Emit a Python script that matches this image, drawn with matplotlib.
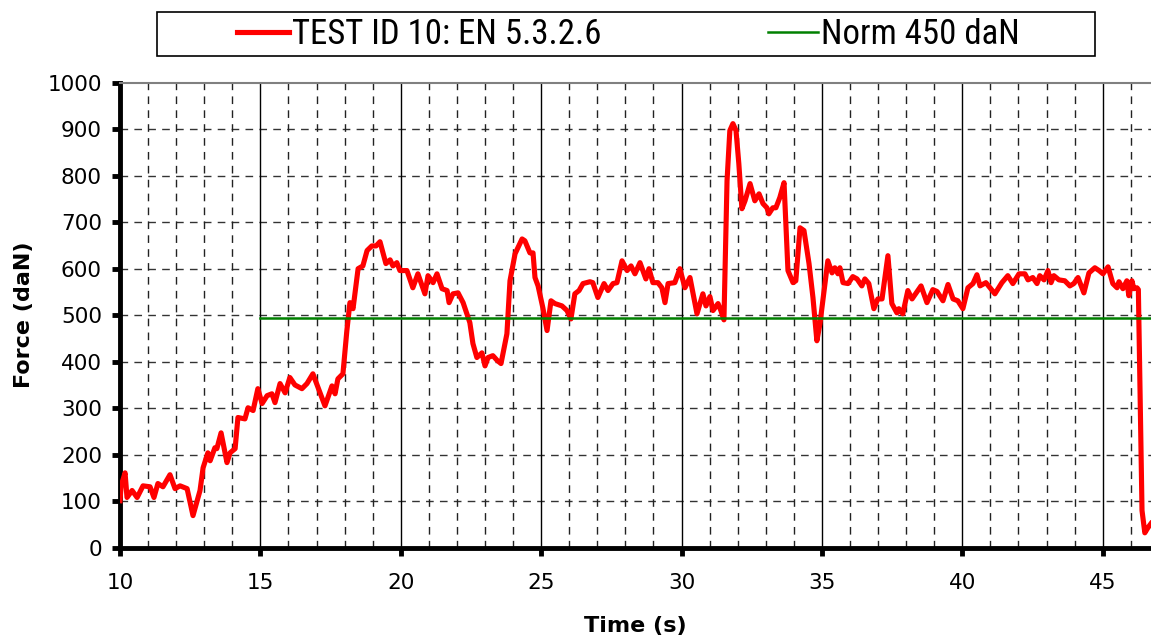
import matplotlib
matplotlib.use("Agg")
import matplotlib.pyplot as plt
from matplotlib import font_manager
from matplotlib.lines import Line2D
from matplotlib.patches import Rectangle

time_s = [10.00, 10.04, 10.18, 10.25, 10.43, 10.61, 10.82, 11.07, 11.21, 11.35, 11.53, 11.78, 11.96, 12.14, 12.39,
          12.60, 12.85, 12.96, 13.13, 13.21, 13.38, 13.45, 13.60, 13.81, 13.92, 14.10, 14.20, 14.45, 14.56, 14.74,
          14.91, 15.06, 15.24, 15.41, 15.52, 15.70, 15.88, 16.05, 16.23, 16.48, 16.66, 16.87, 17.30, 17.55, 17.66,
          17.76, 17.94, 18.08, 18.19, 18.30, 18.48, 18.65, 18.80, 18.97, 19.12, 19.26, 19.47, 19.62, 19.72, 19.86,
          19.97, 20.22, 20.43, 20.61, 20.86, 20.97, 21.15, 21.29, 21.47, 21.65, 21.72, 21.86, 22.04, 22.22, 22.46,
          22.57, 22.71, 22.89, 23.00, 23.11, 23.28, 23.43, 23.57, 23.78, 23.89, 24.07, 24.32, 24.42, 24.60, 24.71,
          24.78, 24.89, 25.06, 25.21, 25.35, 25.49, 25.74, 25.92, 26.06, 26.20, 26.35, 26.49, 26.74, 26.84, 27.02,
          27.24, 27.38, 27.56, 27.70, 27.88, 28.06, 28.20, 28.34, 28.52, 28.73, 28.84, 28.98, 29.16, 29.30, 29.41,
          29.52, 29.76, 29.94, 30.12, 30.30, 30.55, 30.76, 30.87, 31.01, 31.12, 31.30, 31.40, 31.51, 31.62, 31.72,
          31.83, 31.94, 32.04, 32.15, 32.26, 32.44, 32.61, 32.76, 32.90, 33.04, 33.11, 33.25, 33.36, 33.50, 33.65,
          33.79, 33.97, 34.07, 34.22, 34.36, 34.54, 34.68, 34.82, 34.93, 35.11, 35.21, 35.36, 35.46, 35.57, 35.64,
          35.75, 35.93, 36.10, 36.25, 36.42, 36.53, 36.67, 36.85, 36.99, 37.14, 37.35, 37.49, 37.67, 37.74, 37.88,
          38.06, 38.21, 38.53, 38.74, 38.95, 39.10, 39.31, 39.49, 39.67, 39.84, 40.02, 40.20, 40.38, 40.52, 40.63,
          40.84, 41.16, 41.41, 41.62, 41.80, 42.02, 42.23, 42.34, 42.51, 42.66, 42.76, 42.91, 43.05, 43.16, 43.26,
          43.44, 43.65, 43.83, 43.97, 44.12, 44.33, 44.51, 44.72, 44.87, 45.01, 45.19, 45.36, 45.51, 45.58, 45.72,
          45.86, 45.93, 46.04, 46.11, 46.22, 46.27, 46.40, 46.50, 46.61, 46.72]
force_daN = [101, 133, 161, 108, 123, 108, 133, 131, 108, 138, 131, 157, 127, 133, 127,
             69, 123, 172, 204, 187, 215, 213, 247, 183, 204, 213, 280, 277, 301, 295,
             342, 310, 327, 331, 312, 353, 333, 366, 350, 342, 353, 374, 305, 348, 331,
             363, 374, 467, 527, 514, 600, 606, 639, 649, 649, 658, 611, 619, 606, 613,
             596, 596, 559, 589, 546, 585, 570, 589, 557, 553, 527, 546, 548, 527, 484,
             439, 409, 419, 391, 409, 413, 403, 396, 460, 574, 632, 664, 660, 634, 634,
             581, 563, 516, 467, 531, 525, 520, 510, 492, 546, 553, 568, 572, 570, 538,
             568, 553, 568, 570, 617, 596, 606, 589, 613, 578, 600, 570, 570, 559, 527,
             568, 570, 600, 559, 581, 503, 546, 520, 540, 510, 525, 510, 490, 789, 897,
             912, 897, 826, 729, 746, 783, 746, 761, 740, 731, 718, 731, 731, 753, 785,
             596, 570, 574, 688, 682, 611, 538, 445, 482, 568, 617, 591, 602, 589, 602,
             570, 568, 583, 578, 563, 578, 568, 514, 535, 535, 628, 525, 505, 514, 503,
             553, 535, 563, 527, 555, 551, 531, 566, 535, 531, 514, 559, 568, 587, 563,
             570, 546, 570, 585, 568, 589, 589, 576, 581, 568, 585, 576, 596, 570, 585,
             576, 574, 563, 568, 581, 548, 591, 602, 596, 589, 604, 568, 559, 572, 557,
             574, 542, 574, 557, 559, 555, 80, 32, 43, 52]

norm_value = 495
norm_start = 15
x_limits = (10, 46.72)
y_limits = (0, 1000)
x_ticks = [10, 15, 20, 25, 30, 35, 40, 45]
y_ticks = [0, 100, 200, 300, 400, 500, 600, 700, 800, 900, 1000]
x_minor = [11, 12, 13, 14, 16, 17, 18, 19, 21, 22, 23, 24, 26, 27, 28, 29, 31, 32, 33, 34, 36, 37, 38, 39,
           41, 42, 43, 44, 46]
series_label = "TEST ID 10: EN 5.3.2.6"
norm_label = "Norm 450 daN"
x_label = "Time (s)"
y_label = "Force (daN)"

W, H = 1151, 639
fig = plt.figure(figsize=(W / 100, H / 100), dpi=100)
ax = fig.add_axes([120 / W, 1 - 547.7 / H, 1031 / W, 465 / H])
ax.set_xlim(*x_limits)
ax.set_ylim(*y_limits)

dash = (5.5, 4.5)
for yv in y_ticks[1:-1]:
    ax.axhline(yv, color="#333333", lw=1.0, ls=(0, dash), zorder=1)
for xv in x_minor:
    ax.axvline(xv, color="#222222", lw=1.0, ls=(0, dash), zorder=1)
for xv in x_ticks[1:]:
    ax.axvline(xv, color="black", lw=1.0, zorder=1.5)

ax.plot(time_s, force_daN, color="#ff0000", lw=3.7, zorder=3, solid_joinstyle="round")
ax.plot([norm_start, x_limits[1]], [norm_value, norm_value], color="#008000", lw=1.8, zorder=4)

ax.set_xticks(x_ticks)
ax.set_yticks(y_ticks)
ax.tick_params(axis="both", direction="out", width=3.5, length=6, labelsize=15.5, color="black")
ax.tick_params(axis="x", pad=12)
ax.tick_params(axis="y", pad=7)
ax.spines["left"].set_linewidth(3.5)
ax.spines["bottom"].set_linewidth(3.5)
ax.spines["top"].set_color("#808080")
ax.spines["top"].set_linewidth(1.5)
ax.spines["right"].set_visible(False)

ax.set_xlabel(x_label, fontsize=16, fontweight="bold", labelpad=17)
ax.set_ylabel(y_label, fontsize=16, fontweight="bold", labelpad=10)

names = {f.name for f in font_manager.fontManager.ttflist}
narrow = "DejaVu Sans"
for cand in ["Liberation Sans Narrow", "Arial Narrow", "Roboto Condensed", "Archivo Narrow"]:
    if cand in names:
        narrow = cand
        break

fig.patches.append(Rectangle((157 / W, 1 - 56 / H), (1095 - 157) / W, 44 / H, transform=fig.transFigure,
                             fill=False, edgecolor="black", lw=1.2))
leg_prop = {"family": narrow, "size": 25}
leg1 = fig.legend([Line2D([], [], color="#ff0000", lw=3.7)], [series_label], loc="center left",
                  bbox_to_anchor=(237 / W, 1 - 35 / H), frameon=False, prop=leg_prop,
                  handlelength=1.5, handletextpad=0.08, borderpad=0, borderaxespad=0)
leg2 = fig.legend([Line2D([], [], color="#008000", lw=1.8)], [norm_label], loc="center left",
                  bbox_to_anchor=(768 / W, 1 - 35 / H), frameon=False, prop=leg_prop,
                  handlelength=1.44, handletextpad=0.08, borderpad=0, borderaxespad=0)

fig.savefig("out.png", dpi=100)
